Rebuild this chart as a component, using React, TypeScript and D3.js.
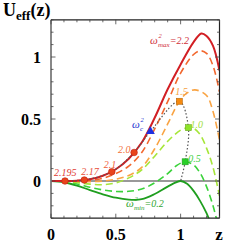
import { useEffect, useRef } from 'react';
import * as d3 from 'd3';

// U_eff(z) curves, one list of [z, U] per omega^2
const u22 = [[0, 0], [0.1, 0], [0.2, 0.003], [0.3, 0.014], [0.4, 0.042], [0.5, 0.095], [0.6, 0.18], [0.7, 0.31], [0.8, 0.51], [0.9, 0.74], [1.0, 0.94], [1.1, 1.12], [1.16, 1.19], [1.2, 1.17], [1.25, 1.09], [1.3, 0.89]];
const u20 = [[0, 0], [0.1, 0], [0.2, 0], [0.3, 0.005], [0.4, 0.022], [0.5, 0.06], [0.6, 0.12], [0.7, 0.23], [0.8, 0.42], [0.9, 0.64], [1.0, 0.87], [1.1, 1.02], [1.15, 1.05], [1.2, 1.03], [1.25, 0.93], [1.3, 0.72]];
const u15 = [[0, 0], [0.1, 0], [0.2, -0.003], [0.3, -0.005], [0.4, 0], [0.5, 0.015], [0.6, 0.045], [0.7, 0.11], [0.8, 0.26], [0.9, 0.46], [0.99, 0.643], [1.05, 0.71], [1.11, 0.735], [1.2, 0.69], [1.25, 0.56], [1.3, 0.33]];
const u10 = [[0, 0], [0.1, -0.003], [0.2, -0.012], [0.3, -0.025], [0.4, -0.03], [0.5, -0.015], [0.6, 0.025], [0.7, 0.09], [0.8, 0.2], [0.9, 0.32], [1.0, 0.41], [1.06, 0.43], [1.1, 0.425], [1.15, 0.375], [1.2, 0.265], [1.25, 0.11], [1.3, -0.12]];
const u05 = [[0, 0], [0.1, -0.005], [0.2, -0.024], [0.3, -0.05], [0.4, -0.072], [0.5, -0.084], [0.6, -0.083], [0.7, -0.065], [0.8, -0.015], [0.9, 0.06], [0.97, 0.125], [1.035, 0.155], [1.1, 0.13], [1.15, 0.065], [1.2, -0.045], [1.25, -0.2], [1.28, -0.32]];
const u02 = [[0, 0], [0.1, -0.01], [0.2, -0.037], [0.3, -0.073], [0.4, -0.107], [0.5, -0.135], [0.6, -0.15], [0.7, -0.147], [0.8, -0.105], [0.9, -0.045], [1.0, 0], [1.05, -0.022], [1.1, -0.08], [1.15, -0.16], [1.2, -0.26], [1.25, -0.39]];

// marked points along the dotted locus
const redMarks = [
  { label: '2.195', z: 0.108, u: 0 },
  { label: '2.17', z: 0.257, u: 0.008 },
  { label: '2.1', z: 0.469, u: 0.075 },
  { label: '2.0', z: 0.641, u: 0.23 },
];
const critMark = { z: 0.767, u: 0.4 };
const squareMarks = [
  { label: '1.5', z: 0.99, u: 0.643 },
  { label: '1.0', z: 1.06, u: 0.43 },
  { label: '0.5', z: 1.035, u: 0.155 },
];
const locus = [[0.108, 0], [0.257, 0.008], [0.469, 0.075], [0.641, 0.23], [0.767, 0.4], [0.99, 0.643], [1.06, 0.43], [1.035, 0.155], [1.0, 0]];

const zTickLabels = ['0', '0.5', '1'];
const uTickLabels = ['0', '0.5', '1'];

const App = () => {
  const svgRef = useRef(null);

  useEffect(() => {
    const svg = d3.select(svgRef.current);
    svg.selectAll('*').remove();

    const x = d3.scaleLinear().domain([0, 1.3]).range([51, 219.5]);
    const y = d3.scaleLinear().domain([-0.3, 1.3]).range([218.2, 19.8]);
    const serif = '"Liberation Serif", "Times New Roman", serif';

    svg.append('clipPath').attr('id', 'plotclip')
      .append('rect')
      .attr('x', x(0)).attr('y', y(1.3))
      .attr('width', x(1.3) - x(0)).attr('height', y(-0.3) - y(1.3));

    // zero line
    svg.append('line')
      .attr('x1', x(0)).attr('x2', x(1.3))
      .attr('y1', y(0)).attr('y2', y(0))
      .attr('stroke', '#777').attr('stroke-width', 1.5);

    const line = d3.line()
      .x(d => x(d[0]))
      .y(d => y(d[1]))
      .curve(d3.curveCatmullRom.alpha(0.5));

    const curves = [
      { data: u02, color: '#1f9e1f', dash: null, w: 1.8 },
      { data: u05, color: '#3ad23a', dash: '7,4', w: 1.6 },
      { data: u10, color: '#a6e63a', dash: '7,4', w: 1.6 },
      { data: u15, color: '#f9a444', dash: '7,4', w: 1.6 },
      { data: u20, color: '#f2672e', dash: '7,4', w: 1.6 },
      { data: u22, color: '#d21f24', dash: null, w: 2 },
    ];

    const plot = svg.append('g').attr('clip-path', 'url(#plotclip)');
    curves.forEach(c => {
      plot.append('path')
        .attr('d', line(c.data))
        .attr('fill', 'none')
        .attr('stroke', c.color)
        .attr('stroke-width', c.w)
        .attr('stroke-dasharray', c.dash);
    });

    plot.append('path')
      .attr('d', line(locus))
      .attr('fill', 'none')
      .attr('stroke', '#555')
      .attr('stroke-width', 1.2)
      .attr('stroke-dasharray', '1.5,2');

    // markers
    redMarks.forEach(m => {
      plot.append('circle')
        .attr('cx', x(m.z)).attr('cy', y(m.u)).attr('r', 3.3)
        .attr('fill', '#e8441c').attr('stroke', '#c02010').attr('stroke-width', 0.6);
    });
    const tri = d3.symbol().type(d3.symbolTriangle).size(34);
    plot.append('path')
      .attr('d', tri())
      .attr('transform', `translate(${x(critMark.z)},${y(critMark.u)})`)
      .attr('fill', '#1f2fe0');
    const squareColors = ['#f58a10', '#8ee42a', '#28d028'];
    squareMarks.forEach((m, i) => {
      plot.append('rect')
        .attr('x', x(m.z) - 3).attr('y', y(m.u) - 3)
        .attr('width', 6).attr('height', 6)
        .attr('fill', squareColors[i])
        .attr('stroke', d3.color(squareColors[i]).darker(0.8))
        .attr('stroke-width', 0.6);
    });

    // frame
    const frame = svg.append('g');
    frame.append('line').attr('x1', x(0)).attr('x2', x(0)).attr('y1', y(1.3)).attr('y2', y(-0.3))
      .attr('stroke', '#888').attr('stroke-width', 2);
    frame.append('line').attr('x1', x(0)).attr('x2', x(1.3)).attr('y1', y(1.3)).attr('y2', y(1.3))
      .attr('stroke', '#222').attr('stroke-width', 1.2);
    frame.append('line').attr('x1', x(0)).attr('x2', x(1.3)).attr('y1', y(-0.3)).attr('y2', y(-0.3))
      .attr('stroke', '#222').attr('stroke-width', 1.2);
    frame.append('line').attr('x1', x(1.3)).attr('x2', x(1.3)).attr('y1', y(1.3)).attr('y2', y(-0.3))
      .attr('stroke', '#222').attr('stroke-width', 1.2);

    const zt = d3.range(0, 14).map(i => i / 10);
    const ut = d3.range(-3, 14).map(i => i / 10);
    const tickLen = v => (Math.abs(v * 2 - Math.round(v * 2)) < 1e-6 ? 4.5 : 2.5);
    zt.forEach(v => {
      frame.append('line').attr('x1', x(v)).attr('x2', x(v)).attr('y1', y(-0.3)).attr('y2', y(-0.3) - tickLen(v))
        .attr('stroke', '#444').attr('stroke-width', 0.8);
      frame.append('line').attr('x1', x(v)).attr('x2', x(v)).attr('y1', y(1.3)).attr('y2', y(1.3) + tickLen(v))
        .attr('stroke', '#444').attr('stroke-width', 0.8);
    });
    ut.forEach(v => {
      frame.append('line').attr('x1', x(0)).attr('x2', x(0) + tickLen(v)).attr('y1', y(v)).attr('y2', y(v))
        .attr('stroke', '#444').attr('stroke-width', 0.8);
      frame.append('line').attr('x1', x(1.3)).attr('x2', x(1.3) - tickLen(v)).attr('y1', y(v)).attr('y2', y(v))
        .attr('stroke', '#444').attr('stroke-width', 0.8);
    });

    // tick labels
    zTickLabels.forEach(t => {
      svg.append('text')
        .attr('x', x(+t)).attr('y', 240)
        .attr('text-anchor', 'middle')
        .attr('font-family', serif).attr('font-weight', 'bold').attr('font-size', 16)
        .text(t);
    });
    uTickLabels.forEach(t => {
      svg.append('text')
        .attr('x', 41).attr('y', y(+t) + 5.5)
        .attr('text-anchor', 'end')
        .attr('font-family', serif).attr('font-weight', 'bold').attr('font-size', 16)
        .text(t);
    });
    svg.append('text')
      .attr('x', 219).attr('y', 240)
      .attr('text-anchor', 'middle')
      .attr('font-family', serif).attr('font-weight', 'bold').attr('font-size', 17)
      .text('z');

    // axis title U_eff(z)
    const title = svg.append('text')
      .attr('x', 3).attr('y', 16)
      .attr('font-family', serif).attr('font-weight', 'bold').attr('font-size', 18);
    title.append('tspan').text('U');
    title.append('tspan').attr('font-size', 13).attr('dy', 4).text('eff');
    title.append('tspan').attr('dy', -4).text('(z)');

    // labels on curves
    const label = (px, py, txt, color, size = 10) =>
      svg.append('text')
        .attr('x', px).attr('y', py)
        .attr('font-family', serif).attr('font-style', 'italic').attr('font-size', size)
        .attr('fill', color)
        .text(txt);

    const redOffsets = [[-11, -5], [-3, -5], [-8, -4], [-16, 1]];
    const redLabelColors = ['#e03a34', '#e8503a', '#f06038', '#f2703c'];
    redMarks.forEach((m, i) => {
      label(x(m.z) + redOffsets[i][0], y(m.u) + redOffsets[i][1], m.label, redLabelColors[i]);
    });
    const sqOffsets = [[-4, -6], [2, 0], [3, 0]];
    const sqLabelColors = ['#f5a040', '#a0e040', '#40d040'];
    squareMarks.forEach((m, i) => {
      label(x(m.z) + sqOffsets[i][0], y(m.u) + sqOffsets[i][1], m.label, sqLabelColors[i]);
    });

    // omega^2 labels: one text element, sup and sub stacked after the omega
    const omegaLabel = (px, py, sub, rest, color) => {
      const t = svg.append('text')
        .attr('x', px).attr('y', py)
        .attr('font-family', serif).attr('font-style', 'italic').attr('font-size', 11)
        .attr('fill', color);
      t.append('tspan').text('ω');
      t.append('tspan').attr('x', px + 8.5).attr('dy', -6).attr('font-size', 6.5).text('2');
      t.append('tspan').attr('x', px + 8).attr('dy', 9).attr('font-size', 7).text(sub);
      if (rest) t.append('tspan').attr('dy', -3).attr('font-size', 10).text(rest);
    };
    omegaLabel(150, 44, 'max', '=2.2', '#d0303a');
    omegaLabel(126, 207, 'min', '=0.2', '#2fa52f');
    omegaLabel(132, 128, 'c', '', '#2030d0');
  }, []);

  return (
    <svg ref={svgRef} width={245} height={245}
      style={{ position: 'absolute', left: 0, top: 0, background: '#fff' }} />
  );
};

export default App;
